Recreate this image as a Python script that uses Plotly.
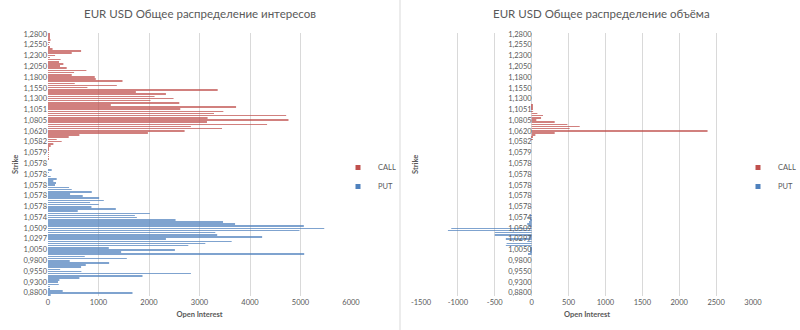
import plotly.graph_objects as go

# ---------------- data ----------------
strike_tick_labels = [
    "1,2800", "1,2550", "1,2300", "1,2050", "1,1800", "1,1550", "1,1300", "1,1051",
    "1,0805", "1,0620", "1,0582", "1,0579", "1,0578", "1,0578", "1,0578", "1,0578",
    "1,0578", "1,0574", "1,0509", "1,0297", "1,0050", "0,9800", "0,9550", "0,9300",
    "0,8800",
]
label_every = 5
n_strikes = 122

call_oi = [
    20, 40, 40, 50, 20, 10, 40, 90, 655, 470,
    140, 40, 250, 218, 304, 238, 370, 760, 516, 470,
    926, 946, 1475, 530, 1363, 780, 3360, 1740, 2335, 2110,
    2486, 2030, 2600, 1244, 3724, 2619, 3472, 3287, 4716, 3160,
    4762, 3148, 4338, 2830, 3446, 2705, 1978, 621, 410, 172,
    271, 106, 53, 15, 10, 10, 8, 5, 5, 0,
] + [0] * 62

put_oi = [0] * 63 + [
    73, 10, 0, 53, 172, 106, 159, 139, 417, 470,
    867, 437, 688, 1012, 1105, 833, 1005, 860, 1343, 589,
    2017, 1720, 1760, 2526, 3466, 3704, 5066, 5470, 4980, 3313,
    3350, 4240, 2335, 3637, 3115, 2778, 1204, 2513, 1448, 5073,
    728, 1561, 430, 1210, 748, 655, 240, 661, 2830, 1871,
    621, 225, 198, 213, 20, 30, 291, 1673, 53,
]

call_vol = [0] * 33 + [
    10, 10, 10, 20, 77, 154, 127, 63, 312, 484,
    651, 515, 2384, 312, 50, 15, 10,
] + [0] * 72

put_vol = [0] * 84 + [
    -10, -59, -10, -36, -60, -40, -1090, -1135, -500, -500,
    -40, -350, -60, -340, -350, -20, -10, -10, -50,
] + [0] * 19

oi_ticks = [0, 1000, 2000, 3000, 4000, 5000, 6000]
vol_ticks = [-1500, -1000, -500, 0, 500, 1000, 1500, 2000, 2500, 3000]

titles = ["EUR USD Общее распределение интересов", "EUR USD Общее распределение объёма"]
series_names = ["CALL", "PUT"]
series_colors = ["#C0504D", "#4F81BD"]

# ---------------- layout helpers ----------------
W, H = 800, 330
FONT = "Lato, Carlito, Calibri, sans-serif"
TXT = "#595959"
GRID = "#d9d9d9"

y_idx = list(range(n_strikes))
tick_idx = [i * label_every for i in range(len(strike_tick_labels))]

x1_dom = [48 / W, 351 / W]
x2_dom = [421 / W, 753 / W]
y_dom = [1 - 296 / H, 1 - 33 / H]

fig = go.Figure()

def add_bars(vals_call, vals_put, xa, ya):
    for name, vals, col in zip(series_names, [vals_call, vals_put], series_colors):
        fig.add_trace(go.Bar(
            x=vals, y=y_idx, orientation="h", name=name,
            marker=dict(color=col, line=dict(width=0)), opacity=0.72,
            xaxis=xa, yaxis=ya, showlegend=False,
        ))

add_bars(call_oi, put_oi, "x", "y")
add_bars(call_vol, put_vol, "x2", "y2")

# legend entries (small squares like the original)
for lg, xa, ya in [("legend", "x", "y"), ("legend2", "x2", "y2")]:
    for name, col in zip(series_names, series_colors):
        fig.add_trace(go.Scatter(
            x=[None], y=[None], mode="markers", name=name,
            marker=dict(symbol="square", size=5, color=col),
            xaxis=xa, yaxis=ya, legend=lg, showlegend=True,
        ))

axis_font = dict(family=FONT, size=7.5, color=TXT)
title_font = dict(family=FONT, size=7.5, color=TXT, weight="bold")

vmin, vmax = vol_ticks[0], vol_ticks[-1]
zero_pos = x2_dom[0] + (0 - vmin) / (vmax - vmin) * (x2_dom[1] - x2_dom[0])

fig.update_layout(
    width=W, height=H,
    margin=dict(l=0, r=0, t=0, b=0, autoexpand=False),
    paper_bgcolor="white", plot_bgcolor="white",
    font=dict(family=FONT, color=TXT),
    barmode="group", bargap=0.45, bargroupgap=0,
    xaxis=dict(
        domain=x1_dom, anchor="y", range=[oi_ticks[0], oi_ticks[-1]],
        tickvals=oi_ticks, ticktext=[str(v) for v in oi_ticks],
        showgrid=True, gridcolor=GRID, gridwidth=1, zeroline=False,
        showline=False, ticks="", tickfont=axis_font, automargin=False,
        title=dict(text="Open Interest", font=title_font, standoff=6),
    ),
    yaxis=dict(
        domain=y_dom, anchor="x", range=[n_strikes - 0.5, -0.5],
        tickvals=tick_idx, ticktext=strike_tick_labels, automargin=False,
        showgrid=False, zeroline=False, showline=False, ticks="",
        tickfont=axis_font,
    ),
    xaxis2=dict(
        domain=x2_dom, anchor="y2", range=[vmin, vmax],
        tickvals=vol_ticks, ticktext=[str(v) for v in vol_ticks],
        showgrid=True, gridcolor=GRID, gridwidth=1, zeroline=False,
        showline=False, ticks="", tickfont=axis_font, automargin=False,
        title=dict(text="Open Interest", font=title_font, standoff=6),
    ),
    yaxis2=dict(
        domain=y_dom, anchor="free", position=zero_pos,
        range=[n_strikes - 0.5, -0.5], automargin=False,
        tickvals=tick_idx, ticktext=strike_tick_labels,
        showgrid=False, zeroline=False, showline=False, ticks="",
        tickfont=axis_font,
    ),
    legend=dict(
        x=338 / W, y=1 - 153 / H, xanchor="left", yanchor="top",
        font=dict(family=FONT, size=7.5, color=TXT),
        bgcolor="rgba(0,0,0,0)", tracegroupgap=0,
    ),
    legend2=dict(
        x=738 / W, y=1 - 153 / H, xanchor="left", yanchor="top",
        font=dict(family=FONT, size=7.5, color=TXT),
        bgcolor="rgba(0,0,0,0)", tracegroupgap=0,
    ),
    showlegend=True,
)

# chart titles and rotated axis titles
for t, cx in zip(titles, [200, 601]):
    fig.add_annotation(
        text=t, x=cx / W, y=1 - 13 / H, xref="paper", yref="paper",
        showarrow=False, xanchor="center", yanchor="middle",
        font=dict(family=FONT, size=11.5, color=TXT),
    )
for sx in [15, 415]:
    fig.add_annotation(
        text="Strike", x=sx / W, y=1 - 165 / H, xref="paper", yref="paper",
        showarrow=False, textangle=-90, xanchor="center", yanchor="middle",
        font=title_font,
    )

# separator between the two charts
fig.add_shape(type="line", xref="paper", yref="paper",
              x0=400 / W, x1=400 / W, y0=0, y1=1,
              line=dict(color=GRID, width=1))

fig.write_html("out.html")
